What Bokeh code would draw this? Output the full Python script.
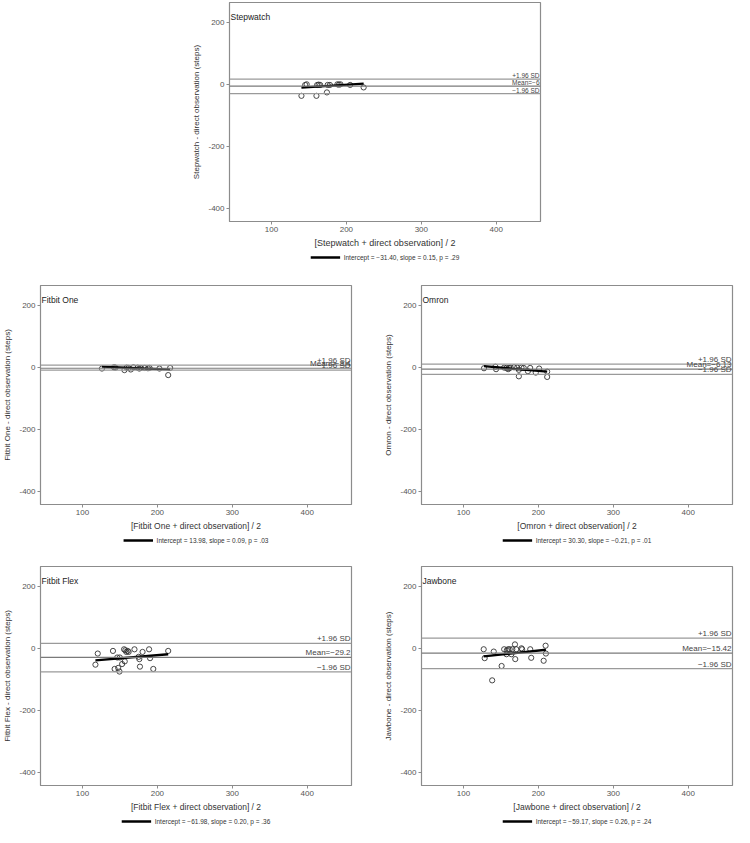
from bokeh.plotting import figure
from bokeh.models import Span, Label, Legend, LegendItem, Spacer, FixedTicker, Range1d
from bokeh.layouts import column, row
from bokeh.embed import file_html
from bokeh.resources import INLINE

# ---------------- data ----------------
devices = ["Stepwatch", "Fitbit One", "Omron", "Fitbit Flex", "Jawbone"]

stepwatch_avg = [140, 145, 147, 160, 161, 163, 165, 174, 175, 178, 188, 190, 192, 205, 223]
stepwatch_diff = [-37, -2, 0, -37, -2, -1, -2, -26, -2, -2, 0, -1, 0, -2, -10]

fitbitone_avg = [126, 142, 144, 156, 159, 161.5, 164.5, 168, 173.6, 175.8, 178, 183, 187.4, 189.5, 202.7, 214.4, 217]
fitbitone_diff = [-4, 0, -1, -9, -1, -2, -7, 0, -1, -4, -2, -2, -3, -2, -4, -25, -2]

omron_avg = [127.4, 142.6, 143.5, 154.3, 157.4, 159.6, 160.9, 163, 167.4, 171.7, 173.9, 173.9, 177.4, 180.4, 186, 189, 196.5, 201, 211.7, 211.7]
omron_diff = [-3, 2, -6, -1, -2, -6, -2, -1, 0, -1, -8, -29, -1, -2, -12.5, -2, -17, -4, -14, -31]

fitbitflex_avg = [117.3, 120.4, 140.7, 146.4, 142.9, 147.7, 149.4, 149.8, 152.9, 155.5, 156.4, 157.2, 158.5, 160.3, 161.6, 169.4, 175, 175.9, 176.7, 180.2, 188.9, 190.2, 194.5, 214.4]
fitbitflex_diff = [-52.6, -16.8, -8.4, -29.5, -66.3, -63, -74.7, -29.5, -50.5, -3.2, -42, -6.3, -11.6, -8.4, -11.6, -3.2, -27.4, -34.7, -58.9, -11.6, -3.2, -31.6, -66.3, -8.4]

jawbone_avg = [127, 128.3, 140.4, 138.3, 150.9, 154.3, 157.4, 157.8, 159.6, 161.7, 163.9, 165.2, 168.7, 169.1, 170.4, 177.4, 178.3, 189.1, 190.4, 207, 209.6, 210]
jawbone_diff = [-3, -31.6, -10.5, -103, -56.8, -3, -19, -6.3, -3, -3, -19, -3, 12.6, -34.7, -3, 0, -3, -3, -30.5, -40, 8.4, -16.8]

level_upper = [17, 7, 10.5, 16, 33]
level_mean = [-6, -3, -6.13, -29.2, -15.42]
level_lower = [-30, -9, -23, -76, -65]
mean_labels = ["Mean=\u22126", "Mean=\u22123.4", "Mean=\u22126.13", "Mean=\u221229.2", "Mean=\u221215.42"]

fit_intercept = [-31.40, 14.5, 30.30, -61.98, -59.17]
fit_slope = [0.15, -0.10, -0.21, 0.20, 0.26]
captions = [
    "Intercept = \u221231.40, slope = 0.15, p = .29",
    "Intercept = 13.98, slope = 0.09, p = .03",
    "Intercept = 30.30, slope = \u22120.21, p = .01",
    "Intercept = \u221261.98, slope = 0.20, p = .36",
    "Intercept = \u221259.17, slope = 0.26, p = .24",
]

x_ticks = [100, 200, 300, 400]
y_ticks = [-400, -200, 0, 200]
X_START, X_END = 44, 459
Y_START, Y_END = -441, 263

series = [
    (stepwatch_avg, stepwatch_diff),
    (fitbitone_avg, fitbitone_diff),
    (omron_avg, omron_diff),
    (fitbitflex_avg, fitbitflex_diff),
    (jawbone_avg, jawbone_diff),
]

FONT = "Liberation Sans"
FRAME_W, FRAME_H = 311, 219
B_LEFT, B_RIGHT, B_TOP, B_BOTTOM = 40, 2, 2, 30
CAP_H = 12


def make_panel(i, level_font="8px", xlabel_font="8.5px"):
    avg, diff = series[i]
    name = devices[i]
    p = figure(width=B_LEFT + FRAME_W + B_RIGHT, height=B_TOP + FRAME_H + B_BOTTOM,
               x_range=Range1d(X_START, X_END), y_range=Range1d(Y_START, Y_END),
               output_backend="svg", toolbar_location=None,
               min_border_left=B_LEFT, min_border_right=B_RIGHT, min_border_top=B_TOP,
               min_border_bottom=B_BOTTOM)
    p.background_fill_color = "white"
    p.border_fill_color = "white"
    p.outline_line_color = "#8c8c8c"
    p.outline_line_width = 1.2
    p.xgrid.visible = False
    p.ygrid.visible = False

    for ax in (p.xaxis[0], p.yaxis[0]):
        ax.axis_line_color = "#8c8c8c"
        ax.major_tick_line_color = "#8c8c8c"
        ax.major_tick_out = 3
        ax.major_tick_in = 0
        ax.minor_tick_line_color = None
        ax.major_label_text_font = FONT
        ax.major_label_text_font_size = "8px"
        ax.major_label_text_color = "#555555"
        ax.major_label_standoff = 2
        ax.axis_label_text_font = FONT
        ax.axis_label_text_font_style = "normal"
        ax.axis_label_text_color = "#333333"
    p.xaxis.ticker = FixedTicker(ticks=x_ticks)
    p.yaxis.ticker = FixedTicker(ticks=y_ticks)
    p.yaxis.major_label_overrides = {t: str(t) for t in y_ticks}
    p.xaxis.axis_label = "[" + name + " + direct observation] / 2"
    p.xaxis.axis_label_text_font_size = xlabel_font
    p.xaxis.axis_label_standoff = 3
    p.yaxis.axis_label = name + " - direct observation (steps)"
    p.yaxis.axis_label_text_font_size = "8px"
    p.yaxis.axis_label_standoff = 4

    # limits of agreement and mean
    for lvl, col in ((level_upper[i], "#9a9a9a"), (level_mean[i], "#7a7a7a"), (level_lower[i], "#9a9a9a")):
        p.add_layout(Span(location=lvl, dimension="width", line_color=col, line_width=1.2))
    for lvl, txt in ((level_upper[i], "+1.96 SD"), (level_mean[i], mean_labels[i]), (level_lower[i], "\u22121.96 SD")):
        p.add_layout(Label(x=X_END, y=lvl, text=txt, text_align="right", text_baseline="bottom",
                           text_font=FONT, text_font_size=level_font, text_color="#444444",
                           x_offset=-1, y_offset=0))

    # points
    p.scatter(avg, diff, marker="circle", size=5.2, fill_color=None,
              line_color="#333333", line_width=0.9)

    # regression line
    x0, x1 = min(avg), max(avg)
    fx = [x0, x1]
    fy = [fit_intercept[i] + fit_slope[i] * x for x in fx]
    p.line(fx, fy, line_color="black", line_width=2.3)

    # panel title
    p.add_layout(Label(x=X_START, y=215, text=name, text_align="left", text_baseline="middle",
                       text_font=FONT, text_font_size="8.5px", text_color="#222222", x_offset=1))

    # caption strip holding the legend (key line drawn outside the strip's view)
    cap = figure(width=B_LEFT + FRAME_W + B_RIGHT, height=CAP_H,
                 x_range=Range1d(0, 1), y_range=Range1d(0, 1),
                 output_backend="svg", toolbar_location=None,
                 min_border_left=B_LEFT, min_border_right=B_RIGHT, min_border_top=0,
                 min_border_bottom=0)
    cap.axis.visible = False
    cap.grid.visible = False
    cap.outline_line_color = None
    cap.background_fill_color = "white"
    cap.border_fill_color = "white"
    r = cap.line(fx, fy, line_color="black", line_width=2.5)
    legend = Legend(items=[LegendItem(label=captions[i], renderers=[r])],
                    location="center", orientation="horizontal",
                    border_line_color=None, background_fill_alpha=0,
                    label_text_font=FONT, label_text_font_size="6.5px", label_text_color="#333333",
                    glyph_width=30, glyph_height=8, label_height=8, label_standoff=4,
                    padding=0, margin=0, spacing=0)
    cap.add_layout(legend)
    return column(p, cap)


p_top = make_panel(0, level_font="6.5px", xlabel_font="9px")
p_fo = make_panel(1)
p_om = make_panel(2)
p_ff = make_panel(3)
p_jb = make_panel(4)

H1 = B_TOP + FRAME_H + B_BOTTOM + CAP_H
layout = column(
    row(Spacer(width=189, height=10), p_top),
    Spacer(width=10, height=283 - H1),
    row(p_fo, Spacer(width=28, height=10), p_om),
    Spacer(width=10, height=564 - 283 - H1),
    row(p_ff, Spacer(width=28, height=10), p_jb),
)

open("out.html", "w").write(file_html(layout, INLINE))
